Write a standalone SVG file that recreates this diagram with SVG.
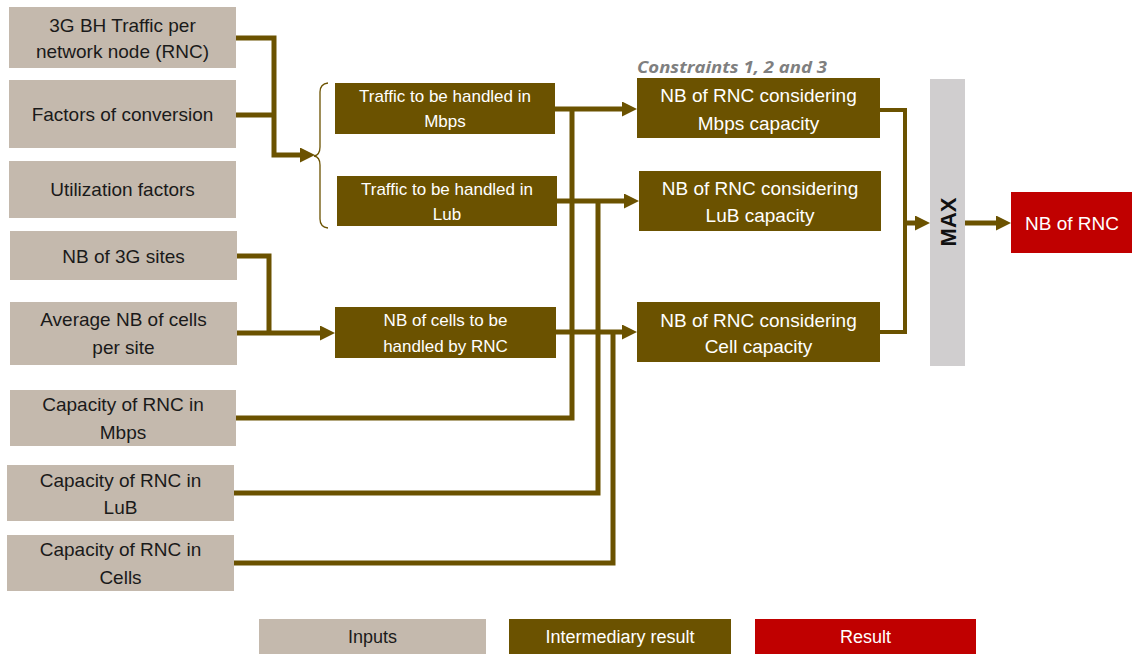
<svg xmlns="http://www.w3.org/2000/svg" width="1132" height="654" viewBox="0 0 1132 654">
<style>
.inp{fill:#c4b9ad}
.mid{fill:#6b5200}
.res{fill:#c00000}
.t{font-family:"Liberation Sans",Arial,sans-serif;text-anchor:middle}
.ti{font-size:19px;fill:#1a1a1a}
.tm{font-size:17px;fill:#ffffff}
.tn{font-size:19px;fill:#ffffff}
.conn{fill:none;stroke:#6b5200;stroke-width:5}
</style>
<defs>
<marker id="ah" viewBox="0 0 10 10" refX="0" refY="5" markerWidth="15" markerHeight="15" markerUnits="userSpaceOnUse" orient="auto">
<path d="M0 0L10 5L0 10Z" fill="#6b5200"/>
</marker>
</defs>
<rect width="1132" height="654" fill="#ffffff"/>

<g id="connectors">
<path class="conn" d="M236 38H274V155H300" marker-end="url(#ah)"/>
<path class="conn" d="M236 115H274"/>
<path class="conn" d="M237 256H269V333"/>
<path class="conn" d="M237 333H320" marker-end="url(#ah)"/>
<path class="conn" d="M555 109H622" marker-end="url(#ah)"/>
<path class="conn" d="M236 418H572V109"/>
<path class="conn" d="M557 201H624" marker-end="url(#ah)"/>
<path class="conn" d="M234 493H598V201"/>
<path class="conn" d="M556 332H622" marker-end="url(#ah)"/>
<path class="conn" d="M234 563H613V332"/>
<path class="conn" style="stroke-width:4" d="M880 110H905V332H880"/>
<path class="conn" d="M905 223H915" marker-end="url(#ah)"/>
<path class="conn" d="M965 223H996" marker-end="url(#ah)"/>
<path d="M328 83Q320 84 320 92V147Q320 155 314 156Q320 157 320 165V219Q320 227 328 228" fill="none" stroke="#6b5200" stroke-width="1.3"/>
</g>

<g id="in1"><rect class="inp" x="9" y="7" width="227" height="61"/><text class="t ti" x="122.5" y="32">3G BH Traffic per</text><text class="t ti" x="122.5" y="58">network node (RNC)</text></g>
<g id="in2"><rect class="inp" x="9" y="80" width="227" height="68"/><text class="t ti" x="122.5" y="121">Factors of conversion</text></g>
<g id="in3"><rect class="inp" x="9" y="161" width="227" height="57"/><text class="t ti" x="122.5" y="196">Utilization factors</text></g>
<g id="in4"><rect class="inp" x="10" y="231" width="227" height="49"/><text class="t ti" x="123.5" y="263">NB of 3G sites</text></g>
<g id="in5"><rect class="inp" x="10" y="302" width="227" height="63"/><text class="t ti" x="123.5" y="326">Average NB of cells</text><text class="t ti" x="123.5" y="354">per site</text></g>
<g id="in6"><rect class="inp" x="10" y="390" width="226" height="56"/><text class="t ti" x="123" y="411">Capacity of RNC in</text><text class="t ti" x="123" y="439">Mbps</text></g>
<g id="in7"><rect class="inp" x="7" y="465" width="227" height="56"/><text class="t ti" x="120.5" y="487">Capacity of RNC in</text><text class="t ti" x="120.5" y="514">LuB</text></g>
<g id="in8"><rect class="inp" x="7" y="535" width="227" height="56"/><text class="t ti" x="120.5" y="556">Capacity of RNC in</text><text class="t ti" x="120.5" y="584">Cells</text></g>

<g id="tr-mbps"><rect class="mid" x="335" y="83" width="220" height="51"/><text class="t tm" x="445" y="102">Traffic to be handled in</text><text class="t tm" x="445" y="127">Mbps</text></g>
<g id="tr-lub"><rect class="mid" x="337" y="176" width="220" height="50"/><text class="t tm" x="447" y="195">Traffic to be handled in</text><text class="t tm" x="447" y="220">Lub</text></g>
<g id="cells"><rect class="mid" x="335" y="307" width="221" height="51"/><text class="t tm" x="445.5" y="326">NB of cells to be</text><text class="t tm" x="445.5" y="352">handled by RNC</text></g>

<g id="constraints"><text x="637" y="73" font-family="'Open Sans','DejaVu Sans',sans-serif" font-size="16" font-weight="bold" font-style="italic" fill="#7f7f7f" textLength="190" lengthAdjust="spacingAndGlyphs">Constraints 1, 2 and 3</text></g>
<g id="nb-mbps"><rect class="mid" x="637" y="78" width="243" height="60"/><text class="t tn" x="758.5" y="102">NB of RNC considering</text><text class="t tn" x="758.5" y="130">Mbps capacity</text></g>
<g id="nb-lub"><rect class="mid" x="639" y="171" width="242" height="60"/><text class="t tn" x="760" y="195">NB of RNC considering</text><text class="t tn" x="760" y="222">LuB capacity</text></g>
<g id="nb-cell"><rect class="mid" x="637" y="302" width="243" height="60"/><text class="t tn" x="758.5" y="327">NB of RNC considering</text><text class="t tn" x="758.5" y="353">Cell capacity</text></g>

<g id="max"><rect x="930" y="79" width="35" height="287" fill="#d0cecf"/><text class="t" transform="translate(956 222) rotate(-90)" font-size="22" font-weight="bold" fill="#111111">MAX</text></g>
<g id="result"><rect class="res" x="1011" y="192" width="121" height="61"/><text class="t tn" x="1072" y="230">NB of RNC</text></g>

<g id="legend">
<rect class="inp" x="259" y="619" width="227" height="35"/><text class="t" x="372.5" y="643" font-size="18" fill="#1a1a1a">Inputs</text>
<rect class="mid" x="509" y="619" width="222" height="35"/><text class="t" x="620" y="643" font-size="18" fill="#ffffff">Intermediary result</text>
<rect class="res" x="755" y="619" width="221" height="35"/><text class="t" x="865.5" y="643" font-size="18" fill="#ffffff">Result</text>
</g>
</svg>
